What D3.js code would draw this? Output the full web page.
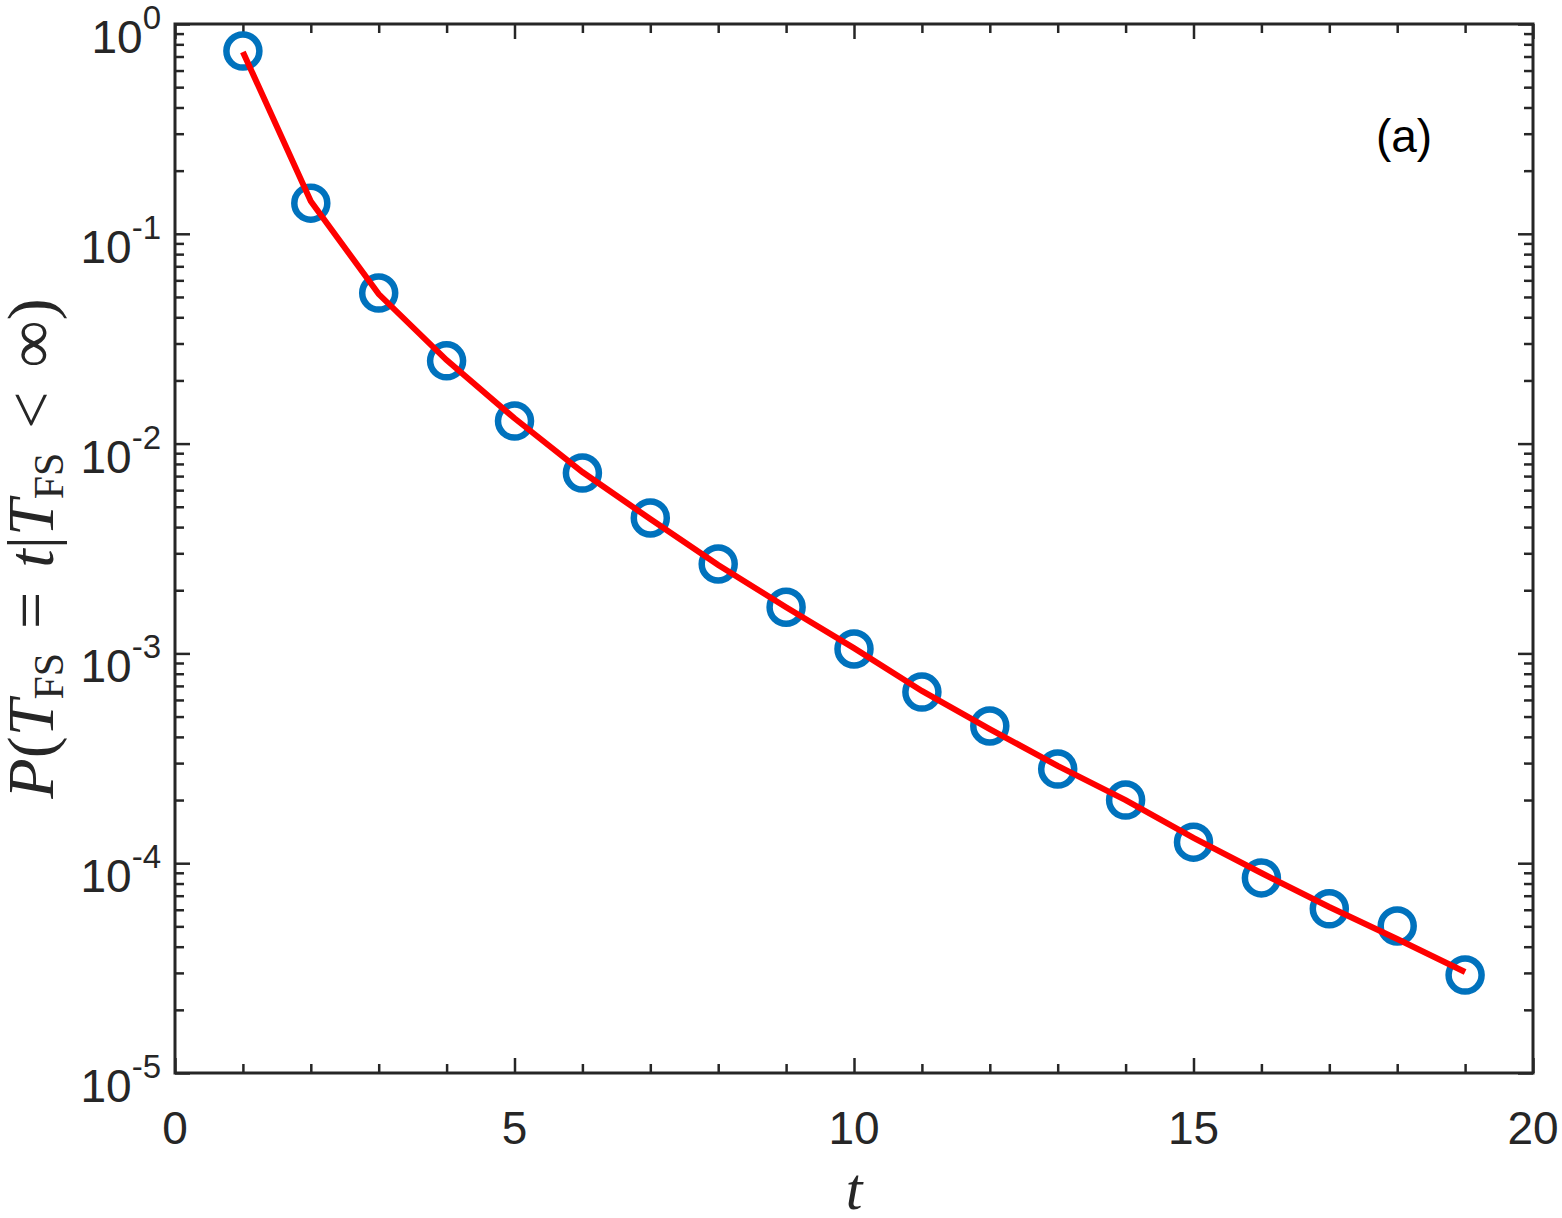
<!DOCTYPE html>
<html>
<head>
<meta charset="utf-8">
<script src="https://cdn.jsdelivr.net/npm/d3@7"></script>
<style>
  body { margin: 0; background: #fff; }
  svg { display: block; }
</style>
</head>
<body>
<svg></svg>
<script>
// time steps
const tValues = [1, 2, 3, 4, 5, 6, 7, 8, 9, 10, 11, 12, 13, 14, 15, 16, 17, 18, 19];
// simulation (blue circles)
const simulated = [0.743, 0.140, 0.0522, 0.0248, 0.0128, 0.00724, 0.00442, 0.00267, 0.00166, 0.00105,
  0.000654, 0.000451, 0.000281, 0.000200, 0.000126, 0.0000851, 0.0000606, 0.0000502, 0.0000293];
// theory (red line)
const theory = [0.736, 0.143, 0.0516, 0.0250, 0.0132, 0.00732, 0.00437, 0.00264, 0.00166, 0.00106,
  0.000662, 0.000436, 0.000291, 0.000200, 0.000132, 0.0000898, 0.0000618, 0.0000435, 0.0000303];

const xTicks = [0, 5, 10, 15, 20];
const yExponents = [-5, -4, -3, -2, -1, 0];

const width = 1562;
const height = 1218;
const margin = { left: 175, right: 29, top: 24, bottom: 145 };
const axisColor = "#262626";

const svg = d3.select("svg").attr("width", width).attr("height", height);

const xScale = d3.scaleLinear()
  .domain([0, 20])
  .range([margin.left, width - margin.right]);

const yScale = d3.scaleLog()
  .domain([1e-5, 1])
  .range([height - margin.bottom, margin.top]);

const x0 = margin.left, x1 = width - margin.right;
const y0 = height - margin.bottom, y1 = margin.top;

// minor tick values
const xMinor = d3.range(0, 21).filter(d => d % 5 !== 0);
const yMinor = [];
yExponents.slice(0, -1).forEach(e => {
  for (let k = 2; k <= 9; k++) yMinor.push(k * Math.pow(10, e));
});
const yMajor = yExponents.map(e => Math.pow(10, e));

function styleAxis(g) {
  g.select(".domain").remove();
  g.selectAll("line").attr("stroke", axisColor).attr("stroke-width", 2.5);
}

// x axes bottom/top
svg.append("g").attr("transform", `translate(0,${y0})`)
  .call(d3.axisBottom(xScale).tickValues(xTicks).tickSize(-15).tickFormat(""))
  .call(styleAxis);
svg.append("g").attr("transform", `translate(0,${y0})`)
  .call(d3.axisBottom(xScale).tickValues(xMinor).tickSize(-9).tickFormat(""))
  .call(styleAxis);
svg.append("g").attr("transform", `translate(0,${y1})`)
  .call(d3.axisTop(xScale).tickValues(xTicks).tickSize(-15).tickFormat(""))
  .call(styleAxis);
svg.append("g").attr("transform", `translate(0,${y1})`)
  .call(d3.axisTop(xScale).tickValues(xMinor).tickSize(-9).tickFormat(""))
  .call(styleAxis);

// y axes left/right
svg.append("g").attr("transform", `translate(${x0},0)`)
  .call(d3.axisLeft(yScale).tickValues(yMajor).tickSize(-15).tickFormat(""))
  .call(styleAxis);
svg.append("g").attr("transform", `translate(${x0},0)`)
  .call(d3.axisLeft(yScale).tickValues(yMinor).tickSize(-9).tickFormat(""))
  .call(styleAxis);
svg.append("g").attr("transform", `translate(${x1},0)`)
  .call(d3.axisRight(yScale).tickValues(yMajor).tickSize(-15).tickFormat(""))
  .call(styleAxis);
svg.append("g").attr("transform", `translate(${x1},0)`)
  .call(d3.axisRight(yScale).tickValues(yMinor).tickSize(-9).tickFormat(""))
  .call(styleAxis);

// box
svg.append("rect")
  .attr("x", x0).attr("y", y1)
  .attr("width", x1 - x0).attr("height", y0 - y1)
  .attr("fill", "none")
  .attr("stroke", axisColor)
  .attr("stroke-width", 3);

// x tick labels
svg.selectAll(".x-label")
  .data(xTicks)
  .enter()
  .append("text")
  .attr("class", "x-label")
  .attr("x", d => xScale(d))
  .attr("y", y0 + 71)
  .attr("text-anchor", "middle")
  .style("font-family", "Liberation Sans, Arial, sans-serif")
  .style("font-size", "46px")
  .attr("fill", axisColor)
  .text(d => d);

// y tick labels, 10 with superscript exponent
const yLabels = svg.selectAll(".y-label")
  .data(yExponents)
  .enter()
  .append("text")
  .attr("class", "y-label")
  .attr("x", x0 - 14)
  .attr("y", d => yScale(Math.pow(10, d)) + 29)
  .attr("text-anchor", "end")
  .style("font-family", "Liberation Sans, Arial, sans-serif")
  .style("font-size", "46px")
  .attr("fill", axisColor);
yLabels.append("tspan").text("10");
yLabels.append("tspan")
  .attr("dy", -24)
  .style("font-size", "33px")
  .text(d => d === 0 ? "0" : "-" + Math.abs(d));

// red theory line
const line = d3.line()
  .x((d, i) => xScale(tValues[i]))
  .y(d => yScale(d));

// blue circles
svg.selectAll(".sim")
  .data(simulated)
  .enter()
  .append("circle")
  .attr("class", "sim")
  .attr("cx", (d, i) => xScale(tValues[i]))
  .attr("cy", d => yScale(d))
  .attr("r", 16.5)
  .attr("fill", "none")
  .attr("stroke", "#0072bd")
  .attr("stroke-width", 6.5);

// line sits on top of the circles
svg.append("path")
  .datum(theory)
  .attr("d", line)
  .attr("fill", "none")
  .attr("stroke", "#ff0000")
  .attr("stroke-width", 6);

// panel label
svg.append("text")
  .attr("x", 1404)
  .attr("y", 152)
  .attr("text-anchor", "middle")
  .style("font-family", "Liberation Sans, Arial, sans-serif")
  .style("font-size", "46px")
  .attr("fill", "#000")
  .text("(a)");

// x-axis label
svg.append("text")
  .attr("x", (x0 + x1) / 2)
  .attr("y", 1209)
  .attr("text-anchor", "middle")
  .style("font-family", "Liberation Serif, serif")
  .style("font-style", "italic")
  .style("font-size", "60px")
  .attr("fill", axisColor)
  .text("t");

// y-axis label
const yTitle = svg.append("text")
  .attr("transform", `translate(53, ${(y0 + y1) / 2}) rotate(-90)`)
  .attr("text-anchor", "middle")
  .style("font-family", "Liberation Serif, serif")
  .style("font-size", "66px")
  .attr("fill", axisColor);
yTitle.append("tspan").style("font-style", "italic").text("P");
yTitle.append("tspan").text("(");
yTitle.append("tspan").style("font-style", "italic").text("T");
yTitle.append("tspan").attr("dy", 10).style("font-size", "42px").text("FS");
yTitle.append("tspan").attr("dy", -10).attr("dx", 24).text("=");
yTitle.append("tspan").attr("dx", 24).style("font-style", "italic").text("t");
yTitle.append("tspan").text("|");
yTitle.append("tspan").style("font-style", "italic").text("T");
yTitle.append("tspan").attr("dy", 10).style("font-size", "42px").text("FS");
yTitle.append("tspan").attr("dy", -10).attr("dx", 24).text("<");
yTitle.append("tspan").attr("dx", 24).text("\u221E)");
</script>
</body>
</html>
